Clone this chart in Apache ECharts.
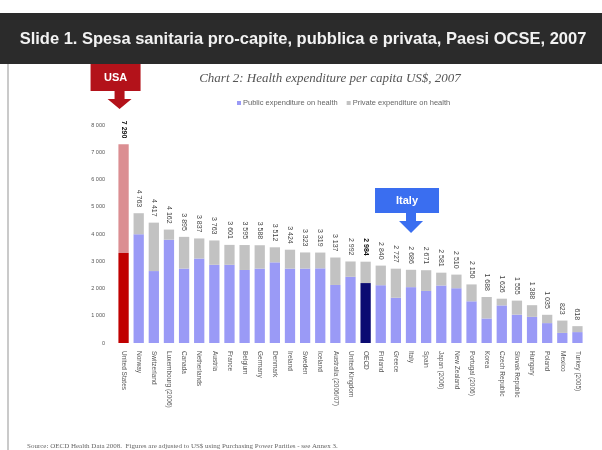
<!DOCTYPE html>
<html>
<head>
<meta charset="utf-8">
<script src="https://cdn.jsdelivr.net/npm/echarts@6/dist/echarts.min.js"></script>
<style>
  html, body { margin: 0; padding: 0; background: #fff; }
  #chart { width: 602px; height: 450px; }
</style>
</head>
<body>
<div id="chart"></div>
<script>
// Health expenditure per capita, US$ PPP, 2007
const countries = [
  'United States', 'Norway', 'Switzerland', 'Luxembourg (2006)', 'Canada', 'Netherlands',
  'Austria', 'France', 'Belgium', 'Germany', 'Denmark', 'Ireland', 'Sweden', 'Iceland',
  'Australia (2006/07)', 'United Kingdom', 'OECD', 'Finland', 'Greece', 'Italy', 'Spain',
  'Japan (2006)', 'New Zealand', 'Portugal (2006)', 'Korea', 'Czech Republic',
  'Slovak Republic', 'Hungary', 'Poland', 'Mexico', 'Turkey (2005)'
];
const totalSpend = [
  7290, 4763, 4417, 4162, 3895, 3837, 3763, 3601, 3595, 3588, 3512, 3424, 3323, 3319,
  3137, 2992, 2984, 2840, 2727, 2686, 2671, 2581, 2510, 2150, 1688, 1626, 1555, 1388,
  1035, 823, 618
];
const publicSpend = [
  3300, 3990, 2640, 3790, 2730, 3100, 2870, 2870, 2680, 2730, 2960, 2730, 2730, 2740,
  2130, 2430, 2200, 2120, 1660, 2050, 1910, 2110, 2010, 1530, 900, 1380, 1040, 960,
  730, 370, 400
];
const yTicks = [0, 1000, 2000, 3000, 4000, 5000, 6000, 7000, 8000];

const privateSpend = totalSpend.map((t, i) => t - publicSpend[i]);
const fmt = v => String(v).replace(/\B(?=(\d{3})+(?!\d))/g, ' ');

const BLUE = '#9a9af6', GREY = '#c2c2c2';
const US_PUB = '#c00000', US_PRIV = '#db8e92', OECD_PUB = '#0b0b72';

const chart = echarts.init(document.getElementById('chart'), null, { renderer: 'canvas' });

const publicData = publicSpend.map((v, i) => {
  if (countries[i] === 'United States') return { value: v, itemStyle: { color: US_PUB } };
  if (countries[i] === 'OECD') return { value: v, itemStyle: { color: OECD_PUB } };
  return v;
});
const privateData = privateSpend.map((v, i) => {
  const item = { value: v };
  if (countries[i] === 'United States') item.itemStyle = { color: US_PRIV };
  if (countries[i] === 'United States' || countries[i] === 'OECD') {
    item.label = { fontWeight: 'bold', color: '#111' };
  }
  return item;
});

chart.setOption({
  animation: false,
  backgroundColor: '#fff',
  textStyle: { fontFamily: 'Liberation Sans' },
  grid: { left: 116, right: 17, top: 125, bottom: 107, containLabel: false },
  legend: {
    top: 94, left: 232,
    itemWidth: 4, itemHeight: 4, itemGap: 9,
    icon: 'rect',
    textStyle: { fontSize: 7.5, color: '#666', padding: [0, 0, 0, -3] },
    data: ['Public expenditure on health', 'Private expenditure on health']
  },
  xAxis: {
    type: 'category',
    data: countries,
    axisLine: { show: false },
    axisTick: { show: false },
    axisLabel: {
      rotate: -90, interval: 0, fontSize: 6.5, color: '#555', margin: 8
    }
  },
  yAxis: {
    type: 'value',
    min: 0, max: 8000, interval: 1000,
    splitLine: { show: false },
    axisLine: { show: false },
    axisTick: { show: false },
    axisLabel: {
      fontSize: 5.5, color: '#555', margin: 11,
      formatter: v => yTicks.includes(v) ? fmt(v) : ''
    }
  },
  series: [
    {
      name: 'Public expenditure on health',
      type: 'bar', stack: 'spend', barWidth: '68%',
      itemStyle: { color: BLUE },
      data: publicData
    },
    {
      name: 'Private expenditure on health',
      type: 'bar', stack: 'spend', barWidth: '68%',
      itemStyle: { color: GREY },
      label: {
        show: true, position: 'top', rotate: -90, align: 'right', verticalAlign: 'middle',
        distance: 6, fontSize: 7, color: '#444',
        formatter: p => fmt(totalSpend[p.dataIndex])
      },
      data: privateData
    }
  ]
});

// Callout box with a downward arrow pointing at one category
function callout(cat, dx, boxTop, boxBottom, halfW, tipY, fill, text) {
  const ax = chart.convertToPixel({ xAxisIndex: 0 }, cat) + dx;
  const bx = ax - 4;
  return [
    {
      type: 'rect', z: 100,
      shape: { x: bx - halfW, y: boxTop, width: halfW * 2, height: boxBottom - boxTop },
      style: { fill: fill }
    },
    {
      type: 'polygon', z: 100,
      shape: { points: [
        [ax - 5, boxBottom], [ax + 5, boxBottom], [ax + 5, boxBottom + 8],
        [ax + 12, boxBottom + 8], [ax, tipY], [ax - 12, boxBottom + 8], [ax - 5, boxBottom + 8]
      ] },
      style: { fill: fill }
    },
    {
      type: 'text', z: 101,
      style: {
        x: bx, y: (boxTop + boxBottom) / 2, text: text,
        fill: '#fff', font: 'bold 11px "Liberation Sans"',
        textAlign: 'center', textVerticalAlign: 'middle'
      }
    }
  ];
}

chart.setOption({
  graphic: [
    { type: 'rect', z: 90, shape: { x: 0, y: 13, width: 602, height: 51 }, style: { fill: '#2b2b2b' } },
    { type: 'line', z: 90, shape: { x1: 8, y1: 64, x2: 8, y2: 450 }, style: { stroke: '#b8b8b8', lineWidth: 1.5 } },
    {
      type: 'text', z: 91,
      style: {
        x: 303, y: 39, text: 'Slide 1. Spesa sanitaria pro-capite, pubblica e privata, Paesi OCSE, 2007',
        fill: '#f2f2f2', font: 'bold 16.5px "Liberation Sans"',
        textAlign: 'center', textVerticalAlign: 'middle'
      }
    },
    {
      type: 'text', z: 91,
      style: {
        x: 330, y: 79, text: 'Chart 2: Health expenditure per capita US$, 2007',
        fill: '#555', font: 'italic 13px "Liberation Serif"',
        textAlign: 'center', textVerticalAlign: 'middle'
      }
    },
    {
      type: 'text', z: 91,
      style: {
        x: 27, y: 446,
        text: 'Source: OECD Health Data 2008.  Figures are adjusted to US$ using Purchasing Power Parities - see Annex 3.',
        fill: '#666', font: '7px "Liberation Serif"',
        textAlign: 'left', textVerticalAlign: 'middle'
      }
    },
    ...callout('United States', -4, 64, 91, 25, 109, '#b3121a', 'USA'),
    ...callout('Italy', 0, 188, 213, 32, 233, '#3a6ef0', 'Italy')
  ]
});
</script>
</body>
</html>
